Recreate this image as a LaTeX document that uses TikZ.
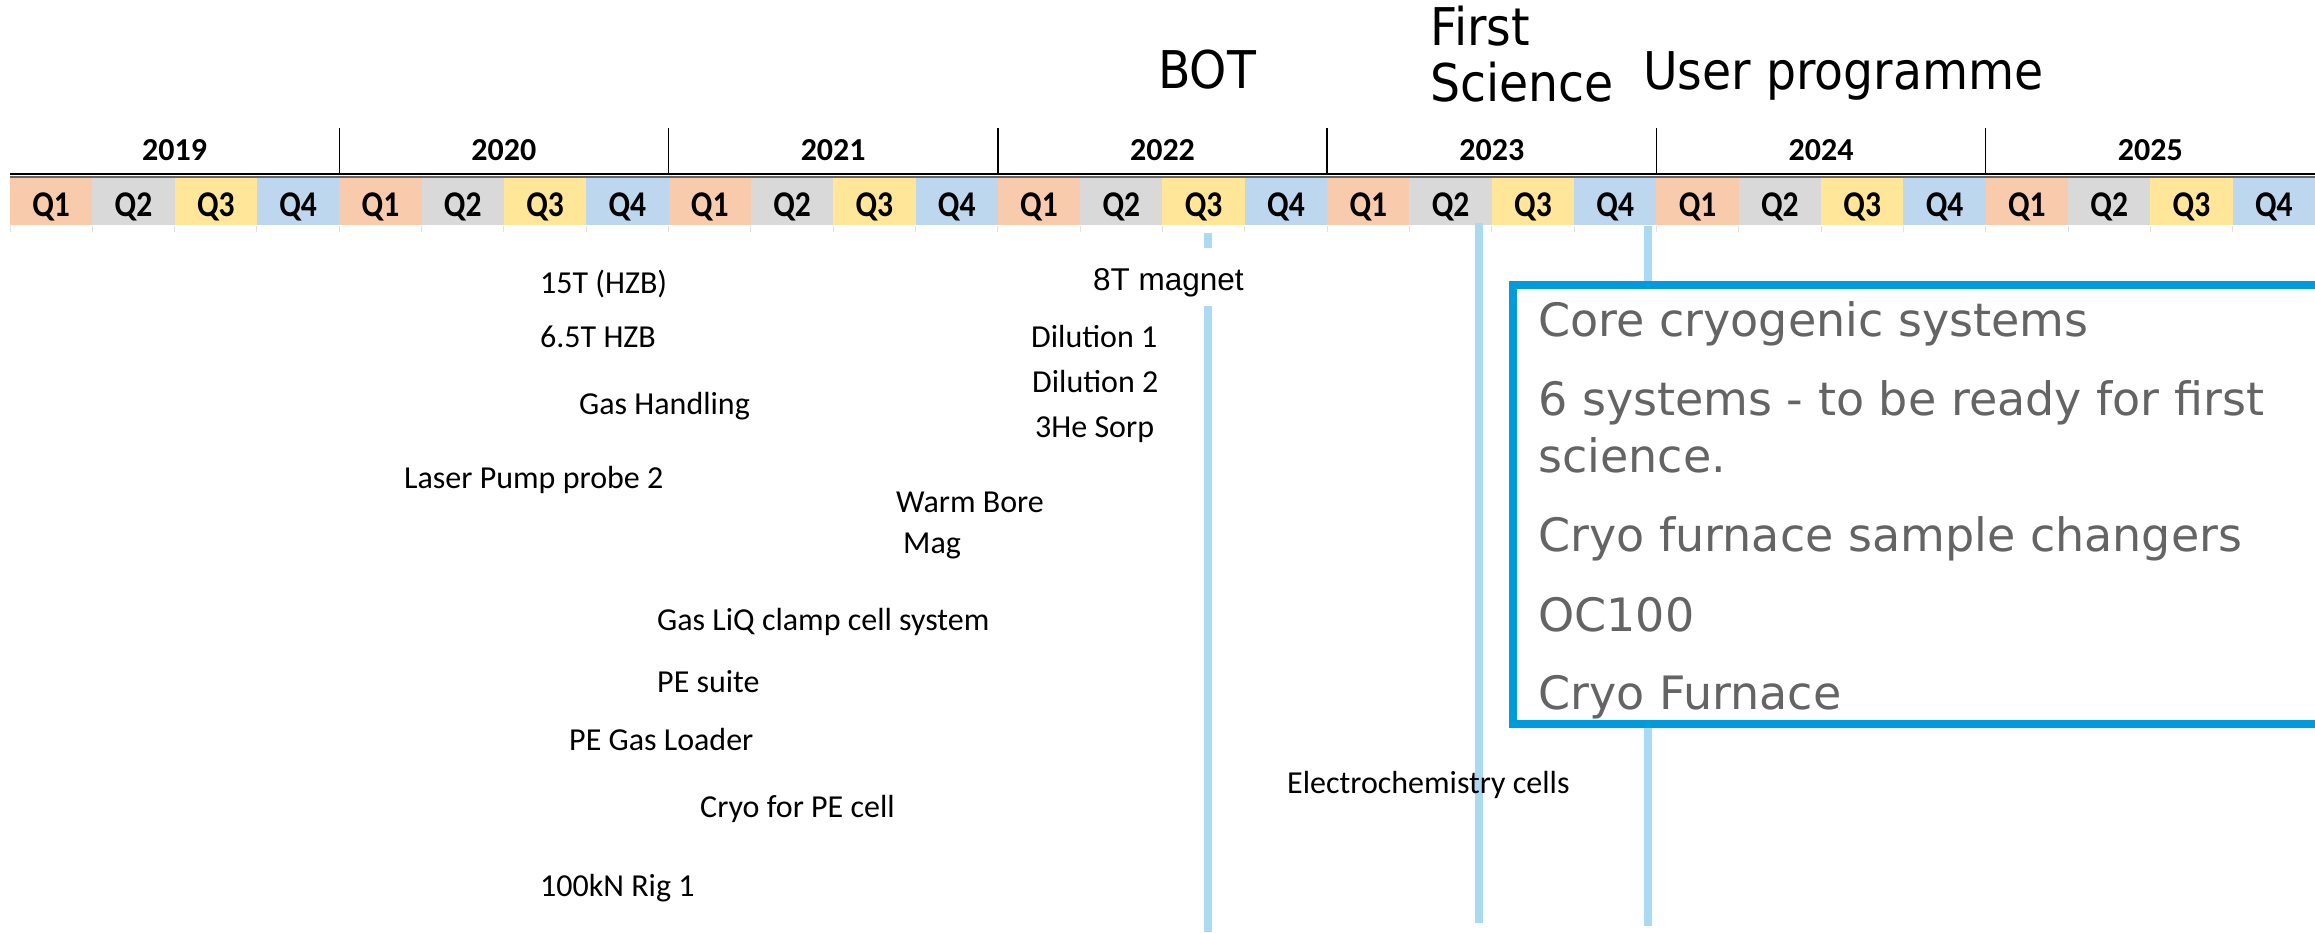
\documentclass[tikz,border=0pt]{standalone}
\usepackage{fontspec}
\newfontfamily\calib{Carlito}
\newfontfamily\arialf{Liberation Sans}
\newfontfamily\tahf[FakeStretch=0.91]{DejaVu Sans}
\newfontfamily\verdf{DejaVu Sans}
\definecolor{qone}{RGB}{248,203,173}
\definecolor{qtwo}{RGB}{217,217,217}
\definecolor{qthree}{RGB}{255,230,153}
\definecolor{qfour}{RGB}{189,215,238}
\definecolor{msline}{RGB}{170,218,242}
\definecolor{boxblue}{RGB}{0,155,219}
\definecolor{boxtext}{RGB}{100,100,100}
\begin{document}
\begin{tikzpicture}[x=1pt,y=-1pt,
  item/.style={anchor=base west, inner sep=0pt, font=\calib\fontsize{32}{38}\selectfont},
  yearlab/.style={anchor=base, inner sep=0pt, font=\calib\bfseries\fontsize{32}{36}\selectfont},
  qlab/.style={anchor=base, inner sep=0pt, font=\calib\bfseries\fontsize{31.5}{36}\selectfont},
  milestone/.style={anchor=base west, inner sep=0pt, font=\tahf\fontsize{52}{60}\selectfont},
  boxline/.style={anchor=base west, inner sep=0pt, text=boxtext, font=\verdf\fontsize{46}{57}\selectfont},
  msbar/.style={draw=msline, line width=7.5pt},
  yearsep/.style={draw=black, line width=1.5pt},
  tick/.style={draw=black!12, line width=1pt}]
\useasboundingbox (0,0) rectangle (2315,932);
\clip (0,0) rectangle (2315,932);

% quarter cells and labels
\foreach \yr [count=\i from 0] in {2019,2020,2021,2022,2023,2024,2025} {
  \foreach \c [count=\j from 0] in {qone,qtwo,qthree,qfour} {
    \fill[\c] ({10+329.28*\i+82.32*\j},177) rectangle ++(82.32,48);
    \node[qlab] (q-\i-\j) at ({10+329.28*\i+82.32*(\j+0.5)},216)
      {\scalebox{1}[1.15]{Q\number\numexpr\j+1\relax}};
    \draw[tick] ({10+329.28*\i+82.32*\j},226) -- ++(0,6);
  }
  \node[yearlab] (yr-\i) at ({10+329.28*(\i+0.5)},160) {\yr};
}
\foreach \i in {1,...,6} {
  \draw[yearsep] ({10+329.28*\i},128) -- ({10+329.28*\i},173);
}
\draw[black, line width=2pt] (10,173.5) -- (2315,173.5);
\draw[black!60, line width=1.2pt] (10,177) -- (2315,177);

% milestone labels
\node[milestone] (bot) at (1158,88) {BOT};
\node[milestone] (first1) at (1430,45) {First};
\node[milestone] (first2) at (1430,101) {Science};
\node[milestone] (user) at (1643,89) {User programme};

% milestone bars
\coordinate (botA) at (1208,233);
\coordinate (botB) at (1208,248);
\coordinate (botC) at (1208,306);
\coordinate (botD) at (1208,932);
\coordinate (fsA) at (1479,223);
\coordinate (fsB) at (1479,923);
\coordinate (upA) at (1648,226);
\coordinate (upB) at (1648,926);
\draw[msbar] (botA) -- (botB);
\draw[msbar] (botC) -- (botD);
\draw[msbar] (fsA) -- (fsB);
\draw[msbar] (upA) -- (upB);

% items
\node[item] (i15t) at (540,293) {15T (HZB)};
\node[item] (i65t) at (540,347) {6.5T HZB};
\node[item] (igas) at (579,414) {Gas Handling};
\node[item] (ilaser) at (404,488) {Laser Pump probe 2};
\node[item] (iwarm) at (896,512) {Warm Bore};
\node[item] (imag) at (903,553) {Mag};
\node[item] (iliq) at (657,630) {Gas LiQ clamp cell system};
\node[item] (ipe) at (657,692) {PE suite};
\node[item] (ipeg) at (569,750) {PE Gas Loader};
\node[item] (icryo) at (700,817) {Cryo for PE cell};
\node[item] (irig) at (540,896) {100kN Rig 1};
\node[item] (idil1) at (1031,347) {Dilution 1};
\node[item] (idil2) at (1032,392) {Dilution 2};
\node[item] (ihe) at (1035,437) {3He Sorp};
\node[item, font=\arialf\fontsize{31.5}{38}\selectfont] (i8t) at (1093,290) {8T magnet};
\node[item] (ielec) at (1287,793) {Electrochemistry cells};

% core cryogenic box
\draw[draw=boxblue, line width=8pt, fill=white] (1513,285) rectangle (2400,724);
\node[boxline] (b1) at (1538,336) {Core cryogenic systems};
\node[boxline] (b2) at (1538,415) {6 systems - to be ready for first};
\node[boxline] (b2b) at (1538,472) {science.};
\node[boxline] (b3) at (1538,551) {Cryo furnace sample changers};
\node[boxline] (b4) at (1538,631) {OC100};
\node[boxline] (b5) at (1538,709) {Cryo Furnace};
\end{tikzpicture}
\end{document}
